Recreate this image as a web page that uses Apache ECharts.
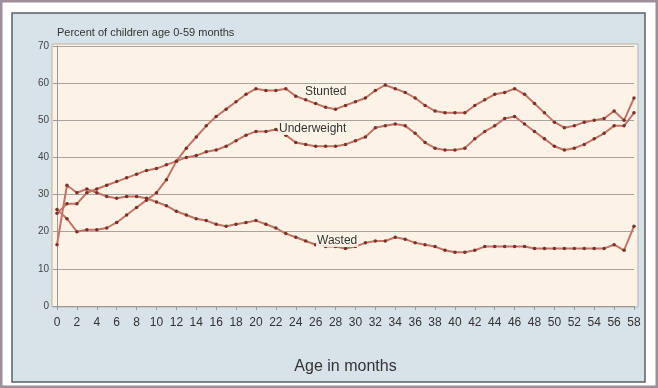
<!DOCTYPE html>
<html>
<head>
<meta charset="utf-8">
<script src="https://cdn.jsdelivr.net/npm/echarts@6/dist/echarts.min.js"></script>
<style>
  html, body { margin: 0; padding: 0; background: #fff; }
  #chart { width: 658px; height: 388px; }
</style>
</head>
<body>
<div id="chart"></div>
<script>
// months 0..58
const months = Array.from({ length: 59 }, (_, i) => String(i))

const stunted = [
  26, 23.5, 20, 20.5, 20.5, 21, 22.5, 24.5, 26.5, 28.5,
  30.5, 34, 39, 42.5, 45.5, 48.5, 51, 53, 55, 57,
  58.5, 58, 58, 58.5, 56.5, 55.5, 54.5, 53.5, 53, 54,
  55, 56, 58, 59.5, 58.5, 57.5, 56, 54, 52.5, 52,
  52, 52, 54, 55.5, 57, 57.5, 58.5, 57, 54.5, 52,
  49.5, 48, 48.5, 49.5, 50, 50.5, 52.5, 50, 56
]
const underweight = [
  25, 27.5, 27.5, 30.5, 31.5, 32.5, 33.5, 34.5, 35.5, 36.5,
  37, 38, 39, 40, 40.5, 41.5, 42, 43, 44.5, 46,
  47, 47, 47.5, 46, 44, 43.5, 43, 43, 43, 43.5,
  44.5, 45.5, 48, 48.5, 49, 48.5, 46.5, 44, 42.5, 42,
  42, 42.5, 45, 47, 48.5, 50.5, 51, 49, 47, 45,
  43, 42, 42.5, 43.5, 45, 46.5, 48.5, 48.5, 52
]
const wasted = [
  16.5, 32.5, 30.5, 31.5, 30.5, 29.5, 29, 29.5, 29.5, 29,
  28, 27, 25.5, 24.5, 23.5, 23, 22, 21.5, 22, 22.5,
  23, 22, 21, 19.5, 18.5, 17.5, 16.5, 16, 16, 15.5,
  16, 17, 17.5, 17.5, 18.5, 18, 17, 16.5, 16, 15,
  14.5, 14.5, 15, 16, 16, 16, 16, 16, 15.5, 15.5,
  15.5, 15.5, 15.5, 15.5, 15.5, 15.5, 16.5, 15, 21.5
]
const seriesNames = ['Stunted', 'Underweight', 'Wasted']

const chart = echarts.init(document.getElementById('chart'))

const lineSeries = (name, data) => ({
  name: name,
  type: 'line',
  data: data,
  symbol: 'circle',
  symbolSize: 3.5,
  itemStyle: { color: '#7a302b' },
  lineStyle: { color: '#c27468', width: 2 },
  emphasis: { disabled: true },
  animation: false
})

const labelText = (text, x, y) => ({
  type: 'text',
  left: x,
  top: y,
  z: 10,
  style: {
    text: text,
    fill: '#333',
    font: '12px "Liberation Sans", Arial, sans-serif',
    backgroundColor: 'rgba(253,244,232,0.9)',
    padding: [0, 1]
  }
})

chart.setOption({
  backgroundColor: '#fff',
  animation: false,
  graphic: [
    // outer frame
    { type: 'rect', shape: { x: 1, y: 1, width: 656, height: 386 }, style: { fill: '#fff', stroke: '#9c8e9a', lineWidth: 3 }, z: -10 },
    // panel
    { type: 'rect', shape: { x: 12, y: 13, width: 633, height: 369 }, style: { fill: '#d8e2e9', stroke: '#5a6068', lineWidth: 1.5 }, z: -9 },
    { type: 'rect', shape: { x: 52, y: 44, width: 586, height: 263 }, style: { fill: '#fcf2e6', stroke: '#b8b0a8', lineWidth: 1 }, z: -8 },
    {
      type: 'text', left: 57, top: 27,
      style: { text: 'Percent of children age 0-59 months', fill: '#333', font: '11px "Liberation Sans", Arial, sans-serif' }
    },
    labelText(seriesNames[0], 304, 86),
    labelText(seriesNames[1], 278, 123),
    labelText(seriesNames[2], 316, 235)
  ],
  grid: { left: 57, right: 24, top: 46, bottom: 82, containLabel: false },
  xAxis: {
    type: 'category',
    data: months,
    boundaryGap: false,
    name: 'Age in months',
    nameLocation: 'middle',
    nameGap: 53,
    nameTextStyle: { fontSize: 16, color: '#333', fontFamily: '"Liberation Sans", Arial, sans-serif' },
    axisLine: { lineStyle: { color: '#9a9a9a' } },
    axisTick: { show: true, interval: 1, length: 4, lineStyle: { color: '#9a9a9a' } },
    axisLabel: { interval: 1, fontSize: 12, color: '#333', margin: 11, fontFamily: '"Liberation Sans", Arial, sans-serif' },
    splitLine: { show: false }
  },
  yAxis: {
    type: 'value',
    min: 0,
    max: 70,
    interval: 10,
    axisLine: { show: true, lineStyle: { color: '#9a9a9a' } },
    axisTick: { show: true, length: 4, lineStyle: { color: '#9a9a9a' } },
    axisLabel: { fontSize: 10, color: '#444', margin: 8, fontFamily: '"Liberation Sans", Arial, sans-serif' },
    splitLine: { lineStyle: { color: '#a8a39d', width: 1.2 } }
  },
  series: [
    lineSeries(seriesNames[0], stunted),
    lineSeries(seriesNames[1], underweight),
    lineSeries(seriesNames[2], wasted)
  ]
})
</script>
</body>
</html>
